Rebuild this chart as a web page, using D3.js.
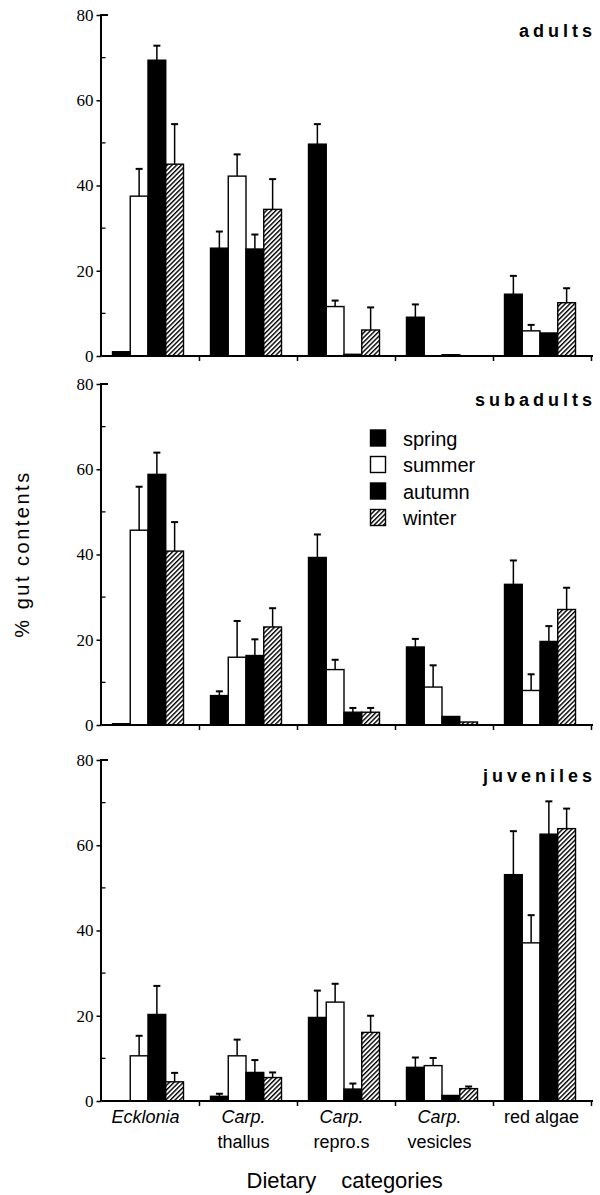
<!DOCTYPE html>
<html>
<head>
<meta charset="utf-8">
<script src="https://cdn.jsdelivr.net/npm/d3@7"></script>
<style>
  body { margin: 0; background: #fff; }
  svg { display: block; }
</style>
</head>
<body>
<div id="chart"></div>
<script>
// ---- data ----
var seasons = ["spring", "summer", "autumn", "winter"];
var categories = ["ecklonia", "thallus", "repro", "vesicles", "red"];
var categoryLine1 = ["Ecklonia", "Carp.", "Carp.", "Carp.", "red algae"];
var categoryLine2 = ["", "thallus", "repro.s", "vesicles", ""];
var stages = ["adults", "subadults", "juveniles"];
var yTicks = [0, 20, 40, 60, 80];
var yMinorTicks = [10, 30, 50, 70];

// mean % per category, seasons in order spring, summer, autumn, winter
var adultsMean = [
  [1.0, 37.5, 69.4, 45.0],
  [25.3, 42.2, 25.1, 34.4],
  [49.7, 11.6, 0.4, 6.1],
  [9.1, 0, 0.3, 0],
  [14.5, 5.9, 5.4, 12.5]
];
// top of the error bar (null = none drawn)
var adultsErrTop = [
  [null, 43.9, 72.8, 54.4],
  [29.2, 47.3, 28.5, 41.5],
  [54.4, 13.0, null, 11.4],
  [12.1, null, null, null],
  [18.8, 7.3, null, 15.9]
];
var subadultsMean = [
  [0.3, 45.7, 58.8, 40.8],
  [6.9, 15.9, 16.3, 23.0],
  [39.3, 13.0, 3.0, 3.0],
  [18.3, 8.9, 2.0, 0.7],
  [33.0, 8.1, 19.6, 27.1]
];
var subadultsErrTop = [
  [null, 55.9, 63.9, 47.6],
  [7.9, 24.4, 20.1, 27.4],
  [44.7, 15.3, 4.0, 4.0],
  [20.2, 14.0, null, null],
  [38.6, 11.9, 23.2, 32.2]
];
var juvenilesMean = [
  [0, 10.6, 20.3, 4.5],
  [1.1, 10.6, 6.7, 5.5],
  [19.6, 23.2, 2.8, 16.1],
  [7.9, 8.3, 1.3, 2.9],
  [53.1, 37.1, 62.6, 63.9]
];
var juvenilesErrTop = [
  [null, 15.3, 27.0, 6.6],
  [1.7, 14.4, 9.6, 6.7],
  [25.9, 27.5, 4.1, 20.0],
  [10.2, 10.1, null, 3.4],
  [63.3, 43.6, 70.3, 68.6]
];

var panelData = [
  { name: stages[0], mean: adultsMean, err: adultsErrTop },
  { name: stages[1], mean: subadultsMean, err: subadultsErrTop },
  { name: stages[2], mean: juvenilesMean, err: juvenilesErrTop }
];

// ---- layout ----
var width = 600, height = 1195;
var axisLeft = 101.5, axisRight = 593;
var panelTop = [15, 384, 760];
var panelHeight = 341;
var serifFont = "'Liberation Serif', 'DejaVu Serif', serif";
var labelFont = "'Liberation Sans', Arial, sans-serif";

var svg = d3.select("#chart").append("svg")
  .attr("width", width)
  .attr("height", height);

// hatch pattern for winter
var defs = svg.append("defs");
defs.append("pattern")
  .attr("id", "hatch")
  .attr("patternUnits", "userSpaceOnUse")
  .attr("width", 3.3)
  .attr("height", 3.3)
  .attr("patternTransform", "rotate(45)")
  .call(function (p) {
    p.append("rect").attr("width", 3.3).attr("height", 3.3).attr("fill", "#fff");
    p.append("line").attr("x1", 0.7).attr("y1", 0).attr("x2", 0.7).attr("y2", 3.3)
      .attr("stroke", "#000").attr("stroke-width", 1.4);
  });

var seasonFill = { spring: "#000", summer: "#fff", autumn: "#000", winter: "url(#hatch)" };

var x0 = d3.scaleBand().domain(categories).range([axisLeft, 591.5]);
var x1 = d3.scaleBand().domain(seasons).range([11, 82]);

panelData.forEach(function (panel, pi) {
  var top = panelTop[pi];
  var y = d3.scaleLinear().domain([0, 80]).range([top + panelHeight, top]);
  var g = svg.append("g");

  // bars
  panel.mean.forEach(function (row, ci) {
    var gx = x0(categories[ci]);
    row.forEach(function (v, si) {
      var s = seasons[si];
      if (v <= 0) return;
      var bx = gx + x1(s);
      g.append("rect")
        .attr("x", bx)
        .attr("y", y(v))
        .attr("width", x1.bandwidth())
        .attr("height", y(0) - y(v))
        .attr("fill", seasonFill[s])
        .attr("stroke", "#000")
        .attr("stroke-width", 1.4);
      var e = panel.err[ci][si];
      if (e != null) {
        var cx = bx + x1.bandwidth() / 2;
        g.append("line")
          .attr("x1", cx).attr("x2", cx)
          .attr("y1", y(v)).attr("y2", y(e))
          .attr("stroke", "#000").attr("stroke-width", 1.5);
        g.append("line")
          .attr("x1", cx - 3.5).attr("x2", cx + 3.5)
          .attr("y1", y(e)).attr("y2", y(e))
          .attr("stroke", "#000").attr("stroke-width", 2);
      }
    });
  });

  // y axis (tick marks from d3, labels added below in serif)
  var yAxis = d3.axisLeft(y).tickValues(yTicks).tickSize(5).tickFormat("");
  var ya = g.append("g")
    .attr("transform", "translate(" + axisLeft + ",0)")
    .call(yAxis);
  ya.select(".domain").attr("stroke-width", 2).attr("d", "M-0.5," + (top + panelHeight) + "V" + top + "h7");
  ya.selectAll(".tick line").attr("stroke-width", 1.5);

  g.selectAll(".ylab")
    .data(yTicks)
    .enter().append("text")
    .attr("x", axisLeft - 8)
    .attr("y", function (d) { return y(d); })
    .attr("dy", "0.35em")
    .attr("text-anchor", "end")
    .style("font-family", serifFont)
    .style("font-size", "17px")
    .attr("fill", "#000")
    .text(function (d) { return d; });

  // minor ticks pointing inward
  g.selectAll(".minor")
    .data(yMinorTicks)
    .enter().append("line")
    .attr("x1", axisLeft).attr("x2", axisLeft + 4)
    .attr("y1", function (d) { return y(d); })
    .attr("y2", function (d) { return y(d); })
    .attr("stroke", "#000").attr("stroke-width", 1.3);

  // x axis
  var xAxis = d3.axisBottom(x0).tickSize(0).tickFormat("");
  var xa = g.append("g")
    .attr("transform", "translate(0," + y(0) + ")")
    .call(xAxis);
  xa.select(".domain").attr("stroke-width", 2).attr("d", "M" + axisLeft + ",0H" + axisRight);
  g.selectAll(".xtick")
    .data(categories)
    .enter().append("line")
    .attr("x1", function (d) { return x0(d) + x0.bandwidth(); })
    .attr("x2", function (d) { return x0(d) + x0.bandwidth(); })
    .attr("y1", y(0)).attr("y2", y(0) + 5)
    .attr("stroke", "#000").attr("stroke-width", 1.5);

  // panel title
  g.append("text")
    .attr("x", axisRight + 3)
    .attr("y", top + 22)
    .attr("text-anchor", "end")
    .attr("font-family", labelFont)
    .attr("font-weight", "bold")
    .attr("font-size", 18)
    .attr("letter-spacing", "4px")
    .text(panel.name);
});

// legend (sits in the subadults panel)
var legend = svg.append("g").attr("transform", "translate(370,430)");
seasons.forEach(function (s, i) {
  var row = legend.append("g").attr("transform", "translate(0," + (i * 26.5) + ")");
  row.append("rect")
    .attr("x", 0.5).attr("y", 0)
    .attr("width", 15).attr("height", 16)
    .attr("fill", seasonFill[s])
    .attr("stroke", "#000").attr("stroke-width", 1.4);
  row.append("text")
    .attr("x", 33).attr("y", 15.5)
    .attr("font-family", labelFont)
    .attr("font-size", 20)
    .text(s);
});

// category labels
categories.forEach(function (c, i) {
  var cx = x0(c) + 44 + (i === 4 ? 4 : 0);
  svg.append("text")
    .attr("x", cx).attr("y", 1123)
    .attr("text-anchor", "middle")
    .attr("font-family", labelFont)
    .attr("font-size", 18)
    .attr("font-style", i < 4 ? "italic" : "normal")
    .text(categoryLine1[i]);
  if (categoryLine2[i]) {
    svg.append("text")
      .attr("x", cx).attr("y", 1148)
      .attr("text-anchor", "middle")
      .attr("font-family", labelFont)
      .attr("font-size", 18)
      .text(categoryLine2[i]);
  }
});

// axis titles
svg.append("text")
  .attr("x", 246.5).attr("y", 1188)
  .attr("font-family", labelFont)
  .attr("font-size", 22)
  .attr("word-spacing", "19px")
  .text("Dietary categories");

svg.append("text")
  .attr("transform", "translate(29,554) rotate(-90)")
  .attr("text-anchor", "middle")
  .attr("font-family", labelFont)
  .attr("font-size", 20)
  .attr("letter-spacing", "2.5px")
  .text("% gut contents");
</script>
</body>
</html>
